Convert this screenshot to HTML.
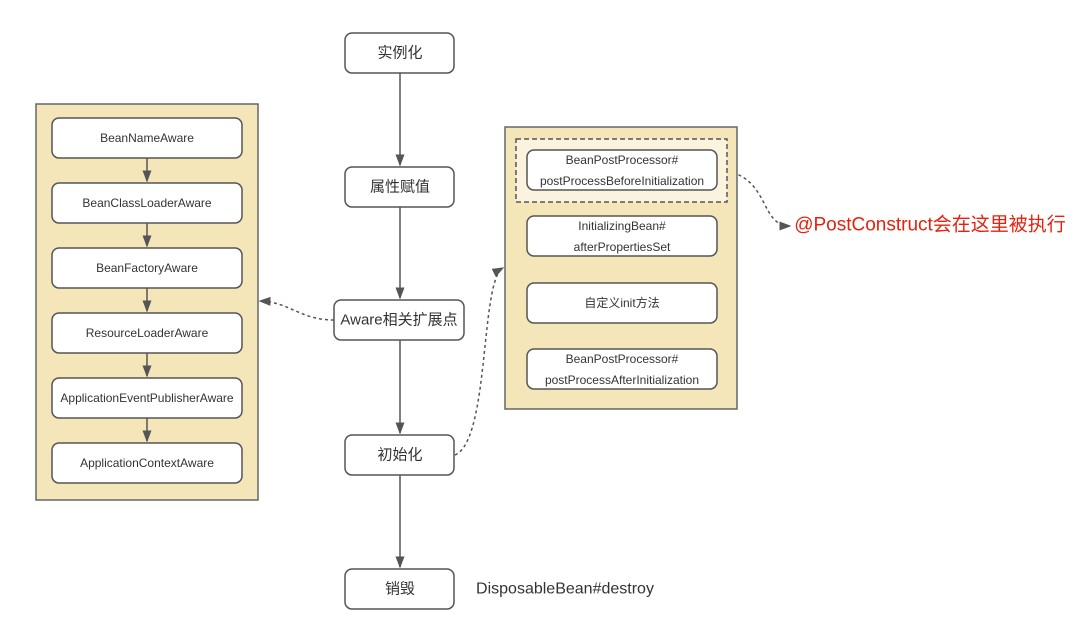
<!DOCTYPE html><html><head><meta charset="utf-8"><style>body{margin:0;background:#fff}svg{display:block}text{font-family:"Liberation Sans","Noto Sans CJK SC",sans-serif;fill:#333;text-anchor:middle;dominant-baseline:central}</style></head><body>
<svg width="1080" height="635" viewBox="0 0 1080 635">
<defs><marker id="a" markerWidth="8" markerHeight="8" refX="7" refY="4" orient="auto"><path d="M0,1 L8,4 L0,7z" fill="#555"/></marker></defs>
<g stroke="#555" stroke-width="1.5" fill="none">
<line x1="400" y1="73" x2="400" y2="165" marker-end="url(#a)"/>
<line x1="400" y1="207" x2="400" y2="298" marker-end="url(#a)"/>
<line x1="400" y1="340" x2="400" y2="433" marker-end="url(#a)"/>
<line x1="400" y1="475" x2="400" y2="567" marker-end="url(#a)"/>
<g stroke-dasharray="3,3"><path d="M334,320 C300,320 290,302 260,301" marker-end="url(#a)"/>
<path d="M455,455 C490,440 480,280 503,268" marker-end="url(#a)"/>
<path d="M727,171 C770,180 760,226 790,226" marker-end="url(#a)"/></g>
</g>
<rect x="36" y="104" width="222" height="396" fill="#f5e6b9" stroke="#666" stroke-width="1.5"/>
<rect x="505" y="127" width="232" height="282" fill="#f5e6b9" stroke="#666" stroke-width="1.5"/>
<rect x="516" y="139" width="211" height="63" fill="#fbf3dd" stroke="#555" stroke-width="1.5" stroke-dasharray="5,3"/>
<g stroke="#555" stroke-width="1.5" fill="none">
<line x1="147" y1="158" x2="147" y2="181" marker-end="url(#a)"/>
<line x1="147" y1="223" x2="147" y2="246" marker-end="url(#a)"/>
<line x1="147" y1="288" x2="147" y2="311" marker-end="url(#a)"/>
<line x1="147" y1="353" x2="147" y2="376" marker-end="url(#a)"/>
<line x1="147" y1="418" x2="147" y2="441" marker-end="url(#a)"/>
</g>
<g fill="#fff" stroke="#555" stroke-width="1.5">
<rect x="52" y="118" width="190" height="40" rx="7"/><rect x="52" y="183" width="190" height="40" rx="7"/><rect x="52" y="248" width="190" height="40" rx="7"/><rect x="52" y="313" width="190" height="40" rx="7"/><rect x="52" y="378" width="190" height="40" rx="7"/><rect x="52" y="443" width="190" height="40" rx="7"/>
<rect x="345" y="33" width="109" height="40" rx="7"/><rect x="345" y="167" width="109" height="40" rx="7"/><rect x="334" y="300" width="130" height="40" rx="7"/><rect x="345" y="435" width="109" height="40" rx="7"/><rect x="345" y="569" width="109" height="40" rx="7"/>
<rect x="527" y="150" width="190" height="40" rx="7"/><rect x="527" y="216" width="190" height="40" rx="7"/><rect x="527" y="283" width="190" height="40" rx="7"/><rect x="527" y="349" width="190" height="40" rx="7"/>
</g>
<g font-size="12">
<text x="147" y="138">BeanNameAware</text><text x="147" y="203">BeanClassLoaderAware</text><text x="147" y="268">BeanFactoryAware</text><text x="147" y="333">ResourceLoaderAware</text><text x="147" y="398">ApplicationEventPublisherAware</text><text x="147" y="463">ApplicationContextAware</text>
<text x="622" y="160">BeanPostProcessor#</text><text x="622" y="181">postProcessBeforeInitialization</text>
<text x="622" y="226">InitializingBean#</text><text x="622" y="247">afterPropertiesSet</text>
<text x="622" y="303">自定义init方法</text>
<text x="622" y="359">BeanPostProcessor#</text><text x="622" y="380">postProcessAfterInitialization</text>
</g>
<g font-size="15">
<text x="400" y="53">实例化</text><text x="400" y="187">属性赋值</text><text x="399" y="320">Aware相关扩展点</text><text x="400" y="455">初始化</text><text x="400" y="589">销毁</text>
</g>
<text x="565" y="589" font-size="16">DisposableBean#destroy</text>
<text x="930" y="225" font-size="19" style="fill:#e8200f">@PostConstruct会在这里被执行</text>
</svg></body></html>
